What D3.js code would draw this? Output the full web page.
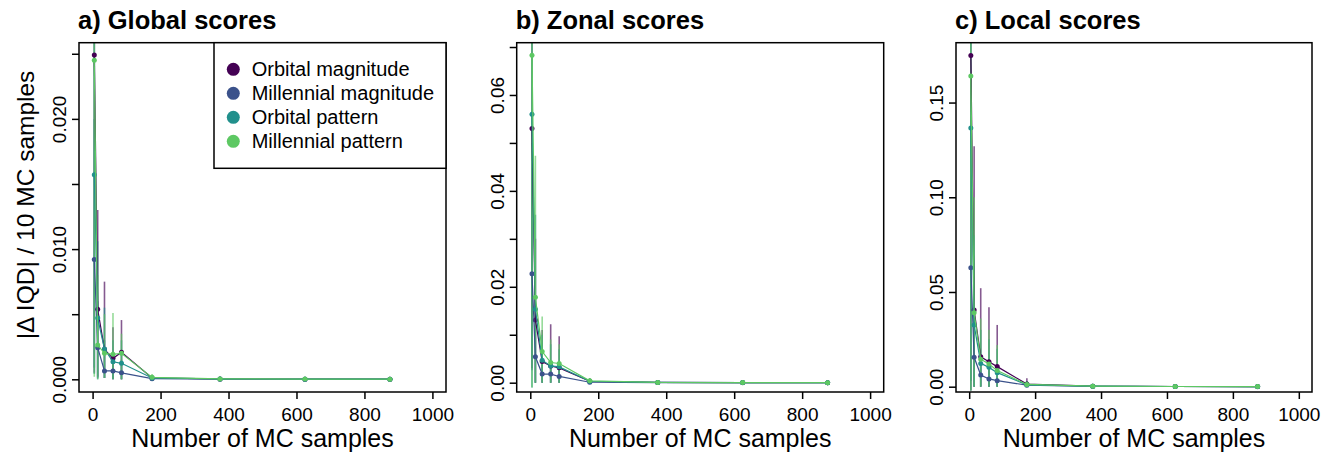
<!DOCTYPE html>
<html>
<head>
<meta charset="utf-8">
<script src="https://cdn.jsdelivr.net/npm/d3@7"></script>
<style>
body { margin: 0; background: #fff; }
svg text { font-family: "Liberation Sans", Arial, sans-serif; fill: #000; }
</style>
</head>
<body>
<svg id="chart" width="1327" height="459"></svg>
<script>
// MC sample counts (x positions of the points)
var samples = [5, 15, 35, 60, 85, 175, 375, 625, 875]
var seriesNames = ["Orbital magnitude", "Millennial magnitude", "Orbital pattern", "Millennial pattern"]
var seriesColors = ["#440154", "#3B528B", "#21908C", "#5DC863"]
var xTicks = [0, 200, 400, 600, 800, 1000]

// a) global scores: one row per series
var globalMean = [
  [0.0249, 0.00538, 0.0023, 0.00161, 0.00207, 0.00010, 0.00003, 0.00001, 0.00001],
  [0.0092, 0.00243, 0.00064, 0.00064, 0.00050, 0.00005, 0.00001, 0.0, 0.0],
  [0.0157, 0.0047, 0.00233, 0.00135, 0.00123, 0.00010, 0.00003, 0.00001, 0.00001],
  [0.0245, 0.00263, 0.0020, 0.00192, 0.0020, 0.00015, 0.00003, 0.00002, 0.00001]
]
var globalLo = [
  [0.0005, 0.0002, 0.0001, 0.0, 0.0, 0.0, 0.0, 0.0, 0.0],
  [0.0009, 0.0001, 0.0001, 0.0, 0.0, 0.0, 0.0, 0.0, 0.0],
  [0.0004, 0.0, 0.0001, 0.0, 0.0, 0.0, 0.0, 0.0, 0.0],
  [0.0002, 0.0, 0.0001, 0.0, 0.0, 0.0, 0.0, 0.0, 0.0]
]
var globalHi = [
  [0.05, 0.013, 0.0075, 0.004, 0.00455, 0.0003, 0.0001, 0.00005, 0.00003],
  [0.02, 0.006, 0.003, 0.0015, 0.0015, 0.0002, 0.00005, 0.00002, 0.00001],
  [0.03, 0.0106, 0.0055, 0.003, 0.003, 0.0003, 0.0001, 0.00004, 0.00003],
  [0.05, 0.008, 0.005, 0.0051, 0.0035, 0.0004, 0.0001, 0.00005, 0.00003]
]

// b) zonal scores
var zonalMean = [
  [0.0530, 0.0131, 0.0044, 0.0035, 0.0031, 0.0003, 0.00005, 0.00002, 0.00001],
  [0.0227, 0.0054, 0.0018, 0.0018, 0.0013, 0.0001, 0.00003, 0.00001, 0.0],
  [0.0560, 0.0153, 0.0047, 0.0035, 0.0033, 0.0003, 0.00005, 0.00002, 0.00001],
  [0.0683, 0.0178, 0.0065, 0.0042, 0.0040, 0.0004, 0.00006, 0.00003, 0.00001]
]
var zonalLo = [
  [0.003, 0.0, 0.0, 0.0, 0.0, 0.0, 0.0, 0.0, 0.0],
  [0.0026, 0.0, 0.0, 0.0, 0.0, 0.0, 0.0, 0.0, 0.0],
  [-0.001, 0.0, 0.0, 0.0, 0.0, 0.0, 0.0, 0.0, 0.0],
  [-0.001, 0.0, 0.0, 0.0, 0.0, 0.0, 0.0, 0.0, 0.0]
]
var zonalHi = [
  [0.09, 0.03, 0.011, 0.0122, 0.0097, 0.0008, 0.0002, 0.0001, 0.00005],
  [0.05, 0.012, 0.005, 0.004, 0.003, 0.0004, 0.0001, 0.00005, 0.00002],
  [0.09, 0.035, 0.010, 0.008, 0.007, 0.0008, 0.0002, 0.0001, 0.00005],
  [0.09, 0.0473, 0.0138, 0.009, 0.008, 0.001, 0.0002, 0.0001, 0.00005]
]

// c) local scores
var localMean = [
  [0.1748, 0.0405, 0.0158, 0.0132, 0.0106, 0.0014, 0.0003, 0.0001, 0.00005],
  [0.0628, 0.0155, 0.0062, 0.0041, 0.0032, 0.0008, 0.0002, 0.0001, 0.0],
  [0.1366, 0.0326, 0.0123, 0.0102, 0.0074, 0.0010, 0.0003, 0.0001, 0.00005],
  [0.164, 0.039, 0.0145, 0.0120, 0.0085, 0.0012, 0.0003, 0.0001, 0.00005]
]
var localLo = [
  [-0.002, 0.0, 0.0, 0.0, 0.0, 0.0, 0.0, 0.0, 0.0],
  [0.003, 0.0, 0.0, 0.0, 0.0, 0.0, 0.0, 0.0, 0.0],
  [-0.002, 0.0, 0.0, 0.0, 0.0, 0.0, 0.0, 0.0, 0.0],
  [-0.002, 0.0, 0.0, 0.0, 0.0, 0.0, 0.0, 0.0, 0.0]
]
var localHi = [
  [0.25, 0.127, 0.052, 0.042, 0.0326, 0.0044, 0.0008, 0.0003, 0.0002],
  [0.15, 0.04, 0.015, 0.012, 0.010, 0.003, 0.0005, 0.0002, 0.0001],
  [0.25, 0.08, 0.030, 0.025, 0.020, 0.003, 0.0006, 0.0002, 0.0001],
  [0.25, 0.10, 0.036, 0.030, 0.022, 0.003, 0.0006, 0.0002, 0.0001]
]

var globalTicks = [0, 0.005, 0.01, 0.015, 0.02, 0.025]
var zonalTicks = [0, 0.01, 0.02, 0.03, 0.04, 0.05, 0.06, 0.07]
var localTicks = [0, 0.05, 0.1, 0.15]

var svg = d3.select("#chart")
var boxTop = 42.7, boxBottom = 392

var panels = [
  {title: "a) Global scores", mean: globalMean, lo: globalLo, hi: globalHi, left: 79, w: 367, ydom: [-0.000975, 0.02585], ticks: globalTicks, labelled: [0, 0.01, 0.02], fmt: d3.format(".3f"), legend: true},
  {title: "b) Zonal scores", mean: zonalMean, lo: zonalLo, hi: zonalHi, left: 516.7, w: 367, ydom: [-0.00194, 0.0709], ticks: zonalTicks, labelled: [0, 0.02, 0.04, 0.06], fmt: d3.format(".2f")},
  {title: "c) Local scores", mean: localMean, lo: localLo, hi: localHi, left: 956, w: 356, ydom: [-0.0028, 0.1816], ticks: localTicks, labelled: localTicks, fmt: d3.format(".2f")}
]

panels.forEach(function(p, pi) {
  var g = svg.append("g")
  var x = d3.scaleLinear().domain([-40, 1040]).range([p.left, p.left + p.w])
  var y = d3.scaleLinear().domain(p.ydom).range([boxBottom, boxTop])

  g.append("clipPath").attr("id", "clip" + pi).append("rect")
    .attr("x", p.left).attr("y", boxTop).attr("width", p.w).attr("height", boxBottom - boxTop)
  var plot = g.append("g").attr("clip-path", "url(#clip" + pi + ")")

  // error bars first
  p.mean.forEach(function(vals, si) {
    plot.selectAll(".bar" + si).data(samples).join("line").attr("class", "bar" + si)
      .attr("x1", d => x(d)).attr("x2", d => x(d))
      .attr("y1", (d, i) => y(p.lo[si][i])).attr("y2", (d, i) => y(p.hi[si][i]))
      .attr("stroke", seriesColors[si]).attr("stroke-width", 1.6).attr("stroke-opacity", 0.65)
  })
  // lines and points
  p.mean.forEach(function(vals, si) {
    var line = d3.line().x((d, i) => x(samples[i])).y(d => y(d))
    plot.append("path").datum(vals).attr("d", line).attr("fill", "none")
      .attr("stroke", seriesColors[si]).attr("stroke-width", 1.2)
    plot.selectAll(".pt" + si).data(vals).join("circle").attr("class", "pt" + si)
      .attr("cx", (d, i) => x(samples[i])).attr("cy", d => y(d)).attr("r", 2.5)
      .attr("fill", seriesColors[si])
  })

  g.append("rect").attr("x", p.left).attr("y", boxTop).attr("width", p.w).attr("height", boxBottom - boxTop)
    .attr("fill", "none").attr("stroke", "#000").attr("stroke-width", 1.5)

  // x axis
  var xa = g.append("g").attr("transform", "translate(0," + boxBottom + ")")
    .call(d3.axisBottom(x).tickValues(xTicks).tickSize(7).tickFormat(d3.format("d")))
  xa.select(".domain").remove()
  xa.selectAll("line").attr("stroke-width", 1.5)
  xa.selectAll("text").attr("y", 28.5).attr("dy", 0).attr("font-size", 19)
    .style("font-family", '"Liberation Sans", Arial, sans-serif')

  // y axis with rotated labels
  var ya = g.append("g").attr("transform", "translate(" + p.left + ",0)")
    .call(d3.axisLeft(y).tickValues(p.ticks).tickSize(7)
      .tickFormat(d => p.labelled.some(v => Math.abs(v - d) < 1e-9) ? p.fmt(d) : ""))
  ya.select(".domain").remove()
  ya.selectAll("line").attr("stroke-width", 1.5)
  ya.selectAll("text").attr("transform", "rotate(-90)").attr("x", 0).attr("y", -13).attr("dy", 0)
    .attr("text-anchor", "middle").attr("font-size", 19)
    .style("font-family", '"Liberation Sans", Arial, sans-serif')

  g.append("text").attr("x", p.left - 1).attr("y", 29).attr("font-size", 25.5).attr("font-weight", "bold").text(p.title)
  g.append("text").attr("x", p.left + p.w / 2).attr("y", 447).attr("text-anchor", "middle")
    .attr("font-size", 25).text("Number of MC samples")

  if (p.legend) {
    var lx = 214, ly = boxTop
    var lg = g.append("g")
    lg.append("rect").attr("x", lx).attr("y", ly).attr("width", p.left + p.w - lx).attr("height", 125.6)
      .attr("fill", "#fff").attr("stroke", "#000").attr("stroke-width", 1.5)
    seriesNames.forEach(function(name, si) {
      lg.append("circle").attr("cx", lx + 19.3).attr("cy", ly + 26.6 + si * 24).attr("r", 6.5).attr("fill", seriesColors[si])
      lg.append("text").attr("x", lx + 37.7).attr("y", ly + 26.6 + si * 24).attr("dy", "0.35em")
        .attr("font-size", 20).text(name)
    })
  }
})

// y axis title for panel a
svg.append("text").attr("transform", "translate(34,205) rotate(-90)")
  .attr("text-anchor", "middle").attr("font-size", 24.5).text("|\u0394 IQD| / 10 MC samples")
</script>
</body>
</html>
